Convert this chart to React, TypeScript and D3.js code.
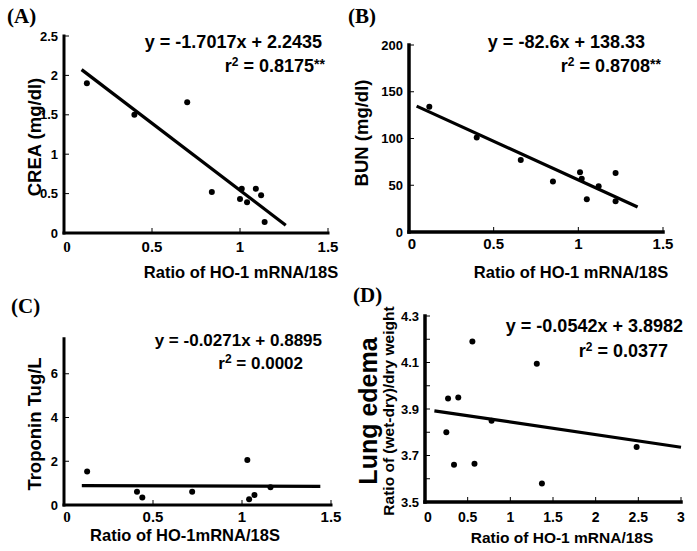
import React from "react";
import * as d3 from "d3";

const W = 697,
  H = 551;

// (A) CREA vs HO-1
const creaX = [0.13, 0.4, 0.7, 0.84, 1.0, 1.01, 1.04, 1.09, 1.12, 1.14];
const creaY = [1.9, 1.5, 1.66, 0.52, 0.43, 0.56, 0.39, 0.56, 0.48, 0.14];
const creaFit = { slope: -1.7017, intercept: 2.2435, from: 0.1, to: 1.26 };

// (B) BUN vs HO-1
const bunX = [0.12, 0.4, 0.66, 0.85, 1.01, 1.02, 1.05, 1.12, 1.22, 1.22];
const bunY = [134, 101, 77, 54, 64, 57, 35, 49, 63, 33];
const bunFit = { slope: -82.6, intercept: 138.33, from: 0.045, to: 1.35 };

// (C) Troponin vs HO-1
const tropX = [0.13, 0.41, 0.44, 0.72, 1.03, 1.04, 1.07, 1.16];
const tropY = [1.53, 0.61, 0.34, 0.61, 2.06, 0.26, 0.46, 0.81];
const tropFit = { slope: -0.0271, intercept: 0.8895, from: 0.1, to: 1.44 };

// (D) lung edema vs HO-1
const lungX = [0.25, 0.27, 0.34, 0.39, 0.555, 0.58, 0.78, 1.31, 1.37, 2.48];
const lungY = [3.8, 3.945, 3.66, 3.95, 4.19, 3.665, 3.85, 4.095, 3.58, 3.737];
const lungFit = { slope: -0.0542, intercept: 3.8982, from: 0.11, to: 3.0 };

const xTicksShort = [0, 0.5, 1, 1.5];
const xTicksLong = [0, 0.5, 1, 1.5, 2, 2.5, 3];
const creaTicks = [0, 0.5, 1, 1.5, 2, 2.5];
const bunTicks = [0, 50, 100, 150, 200];
const tropTicks = [0, 2, 4, 6];
const lungTicks = [3.5, 3.6, 3.7, 3.8, 3.9, 4.0, 4.1, 4.2, 4.3];
const lungLabels = [3.5, 3.7, 3.9, 4.1, 4.3];

const SANS = "'Liberation Sans', Arial, sans-serif";
const SERIF = "'Liberation Serif', 'Times New Roman', serif";

type Fit = { slope: number; intercept: number; from: number; to: number };

type PanelProps = {
  letter: string;
  letterPos: [number, number];
  xs: number[];
  ys: number[];
  fit: Fit;
  xDomain: [number, number];
  xRange: [number, number];
  yDomain: [number, number];
  yRange: [number, number];
  yAxisTop: number;
  xTicks: number[];
  yTicks: number[];
  yLabels: number[];
  yFmt: (v: number) => string;
  xFont: number;
  yFont: number;
  xLabelY: number;
  zeroSerif?: boolean;
  eq: string;
  eqPos: [number, number];
  eqSize?: number;
  r2: string;
  stars?: string;
  r2Pos: [number, number];
  xTitle: string;
  xTitlePos: [number, number];
  xTitleSize: number;
  yTitles: { text: string; x: number; size: number }[];
  yTitleCenter: number;
  axisWidth?: number;
};

const Panel = (p: PanelProps) => {
  const x = d3.scaleLinear().domain(p.xDomain).range(p.xRange);
  const y = d3.scaleLinear().domain(p.yDomain).range(p.yRange);
  const x0 = x(p.xDomain[0]);
  const y0 = y(p.yDomain[0]);
  const fitLine = d3
    .line<number>()
    .x((d) => x(d))
    .y((d) => y(p.fit.slope * d + p.fit.intercept))([p.fit.from, p.fit.to]);
  const aw = p.axisWidth ?? 3;
  const fs = p.eqSize ?? 18;

  return (
    <g>
      <text x={p.letterPos[0]} y={p.letterPos[1]} fontFamily={SERIF} fontWeight="bold" fontSize={21}>
        {p.letter}
      </text>

      {/* ticks point inward */}
      {p.yTicks.map((t) => (
        <line key={"yt" + t} x1={x0} x2={x0 + 5} y1={y(t)} y2={y(t)} stroke="#000" strokeWidth={1} />
      ))}
      {p.xTicks.map((t) => (
        <line key={"xt" + t} x1={x(t)} x2={x(t)} y1={y0} y2={y0 - 5} stroke="#000" strokeWidth={1} />
      ))}

      <line x1={x0} x2={x0} y1={y0} y2={y(p.yAxisTop)} stroke="#000" strokeWidth={aw} strokeLinecap="square" />
      <line x1={x0} x2={x(p.xDomain[1])} y1={y0} y2={y0} stroke="#000" strokeWidth={aw} strokeLinecap="square" />

      {p.yLabels.map((t) => (
        <text key={"yl" + t} x={x0 - 6} y={y(t) + 4.5} textAnchor="end" fontFamily={SANS} fontWeight="bold" fontSize={p.yFont}>
          {p.yFmt(t)}
        </text>
      ))}
      {p.xTicks.map((t) => (
        <text
          key={"xl" + t}
          x={x(t) + (t === 0 ? 3 : 0)}
          y={p.xLabelY}
          textAnchor="middle"
          fontFamily={t === 0 && p.zeroSerif ? SERIF : SANS}
          fontWeight="bold"
          fontSize={p.xFont}
        >
          {String(t)}
        </text>
      ))}

      <path d={fitLine ?? ""} stroke="#000" strokeWidth={3.2} fill="none" />
      {p.xs.map((v, i) => (
        <circle key={"pt" + i} cx={x(v)} cy={y(p.ys[i])} r={3} fill="#000" />
      ))}

      <text x={p.eqPos[0]} y={p.eqPos[1]} textAnchor="end" fontFamily={SANS} fontWeight="bold" fontSize={fs}>
        {p.eq}
      </text>
      <text x={p.r2Pos[0]} y={p.r2Pos[1]} textAnchor="end" fontFamily={SANS} fontWeight="bold" fontSize={fs}>
        r<tspan fontSize={12} dy={-6}>2</tspan>
        <tspan dy={6}>{" = " + p.r2}</tspan>
        {p.stars && (
          <tspan fontSize={14} dy={-3}>
            {p.stars}
          </tspan>
        )}
      </text>

      <text x={p.xTitlePos[0]} y={p.xTitlePos[1]} textAnchor="middle" fontFamily={SANS} fontWeight="bold" fontSize={p.xTitleSize}>
        {p.xTitle}
      </text>
      {p.yTitles.map((t) => (
        <text
          key={t.text}
          transform={`translate(${t.x},${p.yTitleCenter}) rotate(-90)`}
          textAnchor="middle"
          fontFamily={SANS}
          fontWeight="bold"
          fontSize={t.size}
        >
          {t.text}
        </text>
      ))}
    </g>
  );
};

const App = () => {
  return (
    <svg width={W} height={H} style={{ position: "absolute", left: 0, top: 0, background: "#fff" }}>
      <rect width={W} height={H} fill="#fff" />
      <Panel
        letter="(A)"
        letterPos={[7, 23]}
        xs={creaX}
        ys={creaY}
        fit={creaFit}
        xDomain={[0, 1.5]}
        xRange={[64, 328]}
        yDomain={[0, 2.5]}
        yRange={[233, 36]}
        yAxisTop={2.5}
        xTicks={xTicksShort}
        yTicks={creaTicks}
        yLabels={creaTicks}
        yFmt={(v) => String(v)}
        xFont={15}
        yFont={13}
        xLabelY={252}
        zeroSerif
        eq="y = -1.7017x + 2.2435"
        eqPos={[322, 48]}
        r2="0.8175"
        stars="**"
        r2Pos={[325, 72]}
        xTitle="Ratio of HO-1 mRNA/18S"
        xTitlePos={[241, 278]}
        xTitleSize={16.5}
        yTitles={[{ text: "CREA (mg/dl)", x: 41, size: 18.5 }]}
        yTitleCenter={137}
      />
      <Panel
        letter="(B)"
        letterPos={[348, 23]}
        xs={bunX}
        ys={bunY}
        fit={bunFit}
        xDomain={[0, 1.5]}
        xRange={[409, 663]}
        yDomain={[0, 200]}
        yRange={[232, 45]}
        yAxisTop={200}
        xTicks={xTicksShort}
        yTicks={bunTicks}
        yLabels={bunTicks}
        yFmt={(v) => String(v)}
        xFont={15}
        yFont={13}
        xLabelY={249}
        eq="y = -82.6x + 138.33"
        eqPos={[645, 48]}
        r2="0.8708"
        stars="**"
        r2Pos={[661, 72]}
        xTitle="Ratio of HO-1 mRNA/18S"
        xTitlePos={[571, 278]}
        xTitleSize={16.5}
        yTitles={[{ text: "BUN (mg/dl)", x: 368, size: 18.5 }]}
        yTitleCenter={133}
        axisWidth={3.5}
      />
      <Panel
        letter="(C)"
        letterPos={[11, 313]}
        xs={tropX}
        ys={tropY}
        fit={tropFit}
        xDomain={[0, 1.5]}
        xRange={[64, 331]}
        yDomain={[0, 8]}
        yRange={[505, 330]}
        yAxisTop={7.6}
        xTicks={xTicksShort}
        yTicks={tropTicks}
        yLabels={tropTicks}
        yFmt={(v) => String(v)}
        xFont={15}
        yFont={13}
        xLabelY={522}
        zeroSerif
        eq="y = -0.0271x + 0.8895"
        eqPos={[322, 346]}
        eqSize={17}
        r2="0.0002"
        r2Pos={[303, 369]}
        xTitle="Ratio of HO-1mRNA/18S"
        xTitlePos={[185, 541]}
        xTitleSize={16.5}
        yTitles={[{ text: "Troponin Tug/L", x: 41, size: 18.5 }]}
        yTitleCenter={424}
      />
      <Panel
        letter="(D)"
        letterPos={[353, 302]}
        xs={lungX}
        ys={lungY}
        fit={lungFit}
        xDomain={[0, 3]}
        xRange={[425, 681]}
        yDomain={[3.5, 4.3]}
        yRange={[502, 316]}
        yAxisTop={4.3}
        xTicks={xTicksLong}
        yTicks={lungTicks}
        yLabels={lungLabels}
        yFmt={(v) => v.toFixed(1)}
        xFont={14}
        yFont={13}
        xLabelY={522}
        eq="y = -0.0542x + 3.8982"
        eqPos={[683, 332]}
        r2="0.0377"
        r2Pos={[668, 357]}
        xTitle="Ratio of HO-1 mRNA/18S"
        xTitlePos={[562, 543]}
        xTitleSize={15.5}
        yTitles={[
          { text: "Lung edema", x: 377, size: 25 },
          { text: "Ratio of (wet-dry)/dry weight", x: 394, size: 15.5 },
        ]}
        yTitleCenter={411}
        axisWidth={3.5}
      />
    </svg>
  );
};

export default App;
